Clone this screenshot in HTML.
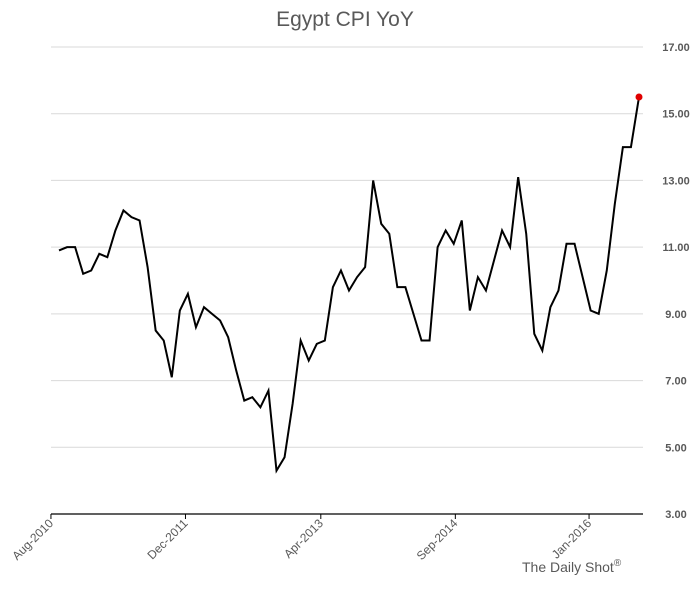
<!DOCTYPE html>
<html><head><meta charset="utf-8"><style>
html,body{margin:0;padding:0;background:#fff;}
svg{display:block;font-family:"Liberation Sans",sans-serif;}
</style></head><body>
<svg id="chart" width="697" height="610" viewBox="0 0 697 610">
<text x="345" y="26" text-anchor="middle" font-size="21" fill="#595959">Egypt CPI YoY</text>
<g id="grid"></g><g id="xaxis"></g><g id="series"></g>
<text x="522" y="572" font-size="14" fill="#595959">The Daily Shot<tspan font-size="10" dy="-6">®</tspan></text>
</svg>
<script>
const values=[10.9,11.0,11.0,10.2,10.3,10.8,10.7,11.5,12.1,11.9,11.8,10.4,8.5,8.2,7.1,9.1,9.6,8.6,9.2,9.0,8.8,8.3,7.3,6.4,6.5,6.2,6.7,4.3,4.7,6.3,8.2,7.6,8.1,8.2,9.8,10.3,9.7,10.1,10.4,13.0,11.7,11.4,9.8,9.8,9.0,8.2,8.2,11.0,11.5,11.1,11.8,9.1,10.1,9.7,10.6,11.5,11.0,13.1,11.4,8.4,7.9,9.2,9.7,11.1,11.1,10.1,9.1,9.0,10.3,12.3,14.0,14.0,15.5];
const yTicks=[3,5,7,9,11,13,15,17];
const xLabels=["Aug-2010","Dec-2011","Apr-2013","Sep-2014","Jan-2016"];
const xLabelIdx=[-1,15.7,32.5,49.2,65.8];
const NS="http://www.w3.org/2000/svg";
const x0=59,x1=639;
function xs(i){return x0+i*(x1-x0)/(values.length-1);}
function ys(v){return 514-(v-3)*(514-47)/14;}
function mk(t,a,p){const e=document.createElementNS(NS,t);for(const k in a)e.setAttribute(k,a[k]);p.appendChild(e);return e;}
const grid=document.getElementById('grid');
yTicks.forEach(v=>{
 if(v>3){const l=mk('line',{x1:51,x2:643,y1:ys(v),y2:ys(v),stroke:'#d9d9d9','stroke-width':1},grid);
 
 }
 const t=mk('text',{x:676,y:ys(v)+4,'text-anchor':'middle','font-size':11,'font-weight':'bold',fill:'#595959'},grid);
 t.textContent=v.toFixed(2);
 
 
});
const xa=document.getElementById('xaxis');
const ax=mk('line',{x1:51,x2:643,y1:514,y2:514,stroke:'#000','stroke-width':1.3},xa);


xLabels.forEach((s,k)=>{
 const x=xs(xLabelIdx[k]);
 const tk=mk('line',{x1:x,x2:x,y1:514,y2:519,stroke:'#000','stroke-width':1},xa);
 
 
 const t=mk('text',{x:x+3,y:524,'text-anchor':'end','font-size':12,fill:'#595959',transform:`rotate(-45 ${x+3} 524)`},xa);
 t.textContent=s;
 
 
});
const se=document.getElementById('series');
const pl=mk('polyline',{points:values.map((v,i)=>xs(i)+','+ys(v)).join(' '),fill:'none',stroke:'#000','stroke-width':2,'stroke-linejoin':'miter'},se);


const n=values.length-1;
const c=mk('circle',{cx:xs(n),cy:ys(values[n]),r:3.5,fill:'#e00000'},se);


</script>
</body></html>
